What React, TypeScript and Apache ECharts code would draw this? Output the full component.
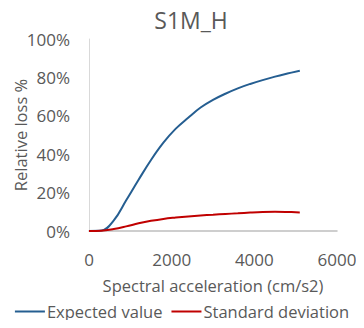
import React, { useEffect, useRef } from "react";
import * as echarts from "echarts";

const accel = [0, 300, 600, 900, 1200, 1500, 1800, 2100, 2400, 2700, 3000, 3300, 3600, 3900, 4200, 4500, 4800, 5100];
const expectedValue = [0, 0.002, 0.055, 0.16, 0.267, 0.37, 0.46, 0.533, 0.59, 0.643, 0.683, 0.715, 0.743, 0.766, 0.786, 0.804, 0.82, 0.835];
const standardDeviation = [0, 0.001, 0.01, 0.024, 0.04, 0.053, 0.063, 0.07, 0.076, 0.081, 0.085, 0.089, 0.092, 0.096, 0.099, 0.1, 0.099, 0.097];
const xTicks = [0, 2000, 4000, 6000];
const yTicks = [0, 0.2, 0.4, 0.6, 0.8, 1];

const FONT = "Open Sans";
const TXT = "#595959";

export default function App() {
  const ref = useRef<HTMLDivElement>(null);
  useEffect(() => {
    if (!ref.current) return;
    const chart = echarts.init(ref.current, undefined, { renderer: "svg" });
    chart.setOption({
      animation: false,
      textStyle: { fontFamily: FONT, color: TXT },
      title: {
        text: "S1M_H",
        left: 186,
        top: 3,
        textAlign: "center",
        textStyle: { fontFamily: FONT, fontSize: 23, fontWeight: "normal", color: TXT },
      },
      grid: { left: 89, right: 27, top: 39, bottom: 97, outerBoundsMode: "none", containLabel: false },
      legend: {
        bottom: 3,
        left: "center",
        icon: "rect",
        itemWidth: 30,
        itemHeight: 2,
        itemGap: 9,
        textStyle: { fontFamily: FONT, fontSize: 16.5, color: TXT, padding: [0, 0, 0, -3] },
        data: ["Expected value", "Standard deviation"],
      },
      xAxis: {
        type: "value",
        min: xTicks[0],
        max: xTicks[xTicks.length - 1],
        interval: 2000,
        name: "Spectral acceleration (cm/s2)",
        nameLocation: "middle",
        nameGap: 46,
        nameMoveOverlap: false,
        nameTextStyle: { fontFamily: FONT, fontSize: 16.5, color: TXT },
        axisLine: { show: true, lineStyle: { color: "#BFBFBF", width: 1.5 } },
        axisTick: { show: false },
        splitLine: { show: false },
        axisLabel: { fontFamily: FONT, fontSize: 17, color: TXT, margin: 20, formatter: (v: number) => String(v) },
      },
      yAxis: {
        type: "value",
        min: yTicks[0],
        max: yTicks[yTicks.length - 1],
        interval: 0.2,
        name: "Relative loss %",
        nameLocation: "middle",
        nameGap: 60,
        nameMoveOverlap: false,
        nameTextStyle: { fontFamily: FONT, fontSize: 16.5, color: TXT },
        axisLine: { show: true, lineStyle: { color: "#D9D9D9", width: 1 } },
        axisTick: { show: false },
        splitLine: { show: false },
        axisLabel: {
          fontFamily: FONT,
          fontSize: 17,
          color: TXT,
          margin: 19,
          formatter: (v: number) => Math.round(v * 100) + "%",
        },
      },
      series: [
        {
          name: "Expected value",
          type: "line",
          smooth: 0.4,
          symbol: "none",
          lineStyle: { color: "#255E91", width: 2 },
          itemStyle: { color: "#255E91" },
          data: accel.map((x, i) => [x, expectedValue[i]]),
        },
        {
          name: "Standard deviation",
          type: "line",
          smooth: 0.4,
          symbol: "none",
          lineStyle: { color: "#C00000", width: 2 },
          itemStyle: { color: "#C00000" },
          data: accel.map((x, i) => [x, standardDeviation[i]]),
        },
      ],
    });
    return () => chart.dispose();
  }, []);
  return <div ref={ref} style={{ width: 364, height: 328, margin: -8 }} />;
}
